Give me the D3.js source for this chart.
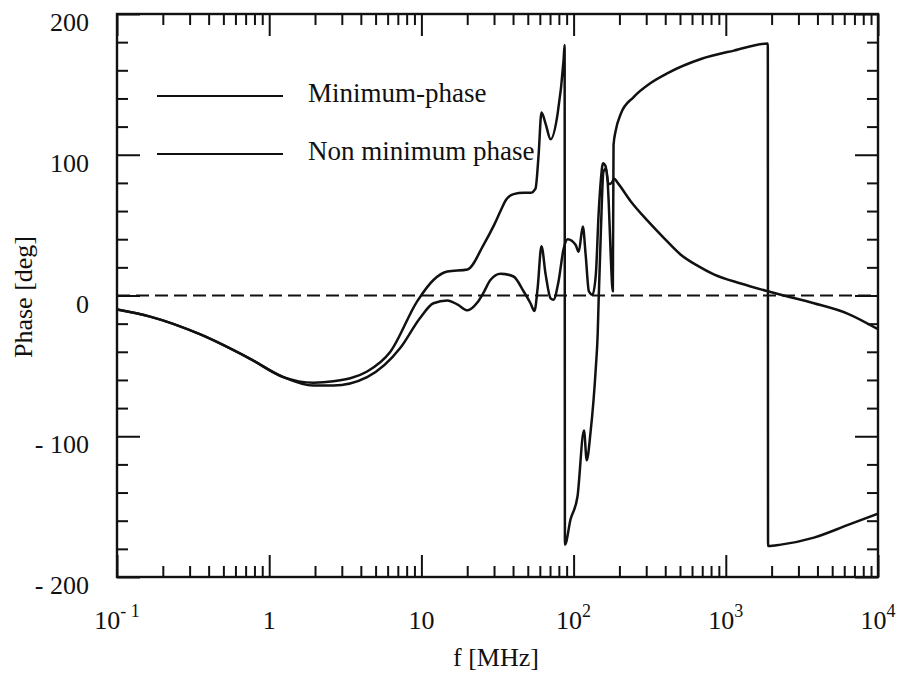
<!DOCTYPE html>
<html>
<head>
<meta charset="utf-8">
<script src="https://cdn.jsdelivr.net/npm/d3@7"></script>
<style>
  body { margin: 0; background: #fff; }
  svg { display: block; }
  text { font-family: "Liberation Serif", "Times New Roman", serif; fill: #111; }
</style>
</head>
<body>
<svg id="chart" width="903" height="681"></svg>
<script>
// phase response, minimum-phase vs non minimum phase
var freqMin = [0.1, 0.165, 0.35, 0.75, 1.24, 1.95, 2.64, 4.4, 7.3, 9.8, 12, 14.8, 17.3, 20.1, 23.3, 25.6, 28.4, 33.1, 40.3, 46.9, 52.1, 55.3, 58, 61.5, 65.5, 70.6, 73.8, 79.6, 85.9, 91.4, 103, 108, 115, 120, 126, 133, 140, 146, 151, 156, 162, 170, 178, 185, 195, 237, 307, 391, 506, 655, 834, 1256, 1888, 2301, 3793, 6353, 10000];
var phaseMin = [-10, -15, -27.5, -45, -58, -64, -64, -58, -37, -16, -5.5, -3.5, -6.5, -10.5, -5, 2, 11, 15.5, 13.5, 3, -5.5, -11, 5, 35, 15, -2, -3, 10, 33, 40, 36, 31, 49, 29, 3, 0.5, 15, 58, 82, 94, 92, 79, 80, 83, 80, 67, 53, 41, 29, 21, 15, 8.5, 3, 0.5, -5.5, -13, -24];

var freqNon = [0.1, 0.165, 0.35, 0.75, 1.24, 1.95, 2.64, 4.4, 6.25, 9.4, 12, 14.8, 20.1, 25.6, 30, 33.1, 36, 40.3, 47, 52.1, 56.2, 58.9, 61.5, 65.5, 70.6, 78.5, 85.9, 87.3, 87.7, 95.5, 106, 117, 122, 129, 140, 144, 146, 151, 157, 163, 170, 175, 181, 183, 189, 204, 248, 321, 415, 686, 1130, 1888, 1895, 2301, 3793, 6353, 10000];
var phaseNon = [-10, -15, -27.5, -45, -58, -62, -61, -54, -40, -4, 11, 17, 18.5, 36, 50, 60, 68, 72, 73, 73, 76, 100, 130, 122, 111, 129, 167, 178, -177, -159, -143, -96, -117, -98, -51, -27, -4, 45, 88, 90, 67, 31, 3, 107, 117, 129, 141, 151, 158, 168, 174, 179, -178, -177, -172, -163, -155];

var xDecades = [0.1, 1, 10, 100, 1000, 10000];
var xBase = ['10', '1', '10', '10', '10', '10'];
var xExp = ['- 1', '', '', '2', '3', '4'];
var yMajor = [-200, -100, 0, 100, 200];
var yLabels = ['- 200', '- 100', '0', '100', '200'];
var legendNames = ['Minimum-phase', 'Non minimum phase'];

var svg = d3.select('#chart');
var plotL = 117, plotR = 878, plotT = 14, plotB = 577;

var x = d3.scaleLog().domain([0.1, 10000]).range([plotL, plotR]);
var y = d3.scaleLinear().domain([-200, 200]).range([plotB, plotT]);

var xMinor = [];
xDecades.slice(0, -1).forEach(function(d) {
  for (var k = 2; k < 10; k++) xMinor.push(d * k);
});
var yMinor = d3.range(-180, 200, 20).filter(function(v) { return v % 100 !== 0; });

// ticks drawn inward on all four sides
function ticks(axis, vals, size, tr) {
  var g = svg.append('g').attr('transform', tr)
    .call(axis.tickValues(vals).tickSize(size).tickFormat(''));
  g.select('.domain').remove();
  g.selectAll('line').attr('stroke', '#111').attr('stroke-width', 2);
}
ticks(d3.axisBottom(x), xDecades, -22, 'translate(0,' + plotB + ')');
ticks(d3.axisBottom(x), xMinor, -11, 'translate(0,' + plotB + ')');
ticks(d3.axisTop(x), xDecades, -22, 'translate(0,' + plotT + ')');
ticks(d3.axisTop(x), xMinor, -11, 'translate(0,' + plotT + ')');
ticks(d3.axisLeft(y), yMajor, -23, 'translate(' + plotL + ',0)');
ticks(d3.axisLeft(y), yMinor, -11, 'translate(' + plotL + ',0)');
ticks(d3.axisRight(y), yMajor, -23, 'translate(' + plotR + ',0)');
ticks(d3.axisRight(y), yMinor, -11, 'translate(' + plotR + ',0)');

svg.append('rect').attr('x', plotL).attr('y', plotT)
  .attr('width', plotR - plotL).attr('height', plotB - plotT)
  .attr('fill', 'none').attr('stroke', '#111').attr('stroke-width', 2.4);

// x tick labels with superscript exponents
xDecades.forEach(function(d, i) {
  var t = svg.append('text').attr('x', x(d)).attr('y', 629)
    .attr('text-anchor', 'middle').attr('font-size', 26);
  t.append('tspan').text(xBase[i]);
  if (xExp[i]) {
    t.append('tspan').attr('dy', -12).attr('font-size', 18).text(xExp[i]);
  }
});

yMajor.forEach(function(v, i) {
  svg.append('text').attr('x', 89).attr('y', y(v) + 17)
    .attr('text-anchor', 'end').attr('font-size', 26).text(yLabels[i]);
});

svg.append('text').attr('x', 496).attr('y', 666)
  .attr('text-anchor', 'middle').attr('font-size', 26).text('f [MHz]');
svg.append('text').attr('transform', 'translate(32,297) rotate(-90)')
  .attr('text-anchor', 'middle').attr('font-size', 26).text('Phase [deg]');

svg.append('clipPath').attr('id', 'plot').append('rect')
  .attr('x', plotL).attr('y', plotT).attr('width', plotR - plotL).attr('height', plotB - plotT);

var plot = svg.append('g').attr('clip-path', 'url(#plot)');

plot.append('line')
  .attr('x1', x(0.1)).attr('x2', x(10000)).attr('y1', y(0)).attr('y2', y(0))
  .attr('stroke', '#111').attr('stroke-width', 2).attr('stroke-dasharray', '13,6');

var line = d3.line()
  .x(function(d) { return x(d[0]); })
  .y(function(d) { return y(d[1]); })
  .curve(d3.curveMonotoneX);

[[freqMin, phaseMin], [freqNon, phaseNon]].forEach(function(s) {
  plot.append('path')
    .datum(d3.zip(s[0], s[1]))
    .attr('d', line)
    .attr('fill', 'none').attr('stroke', '#111').attr('stroke-width', 2.5)
    .attr('stroke-linejoin', 'round');
});

// legend
var legendY = [96, 154];
legendNames.forEach(function(name, i) {
  svg.append('line').attr('x1', 157).attr('x2', 283)
    .attr('y1', legendY[i]).attr('y2', legendY[i])
    .attr('stroke', '#111').attr('stroke-width', 2.2);
  svg.append('text').attr('x', 308).attr('y', legendY[i] + 6)
    .attr('font-size', 27).text(name);
});
</script>
</body>
</html>
